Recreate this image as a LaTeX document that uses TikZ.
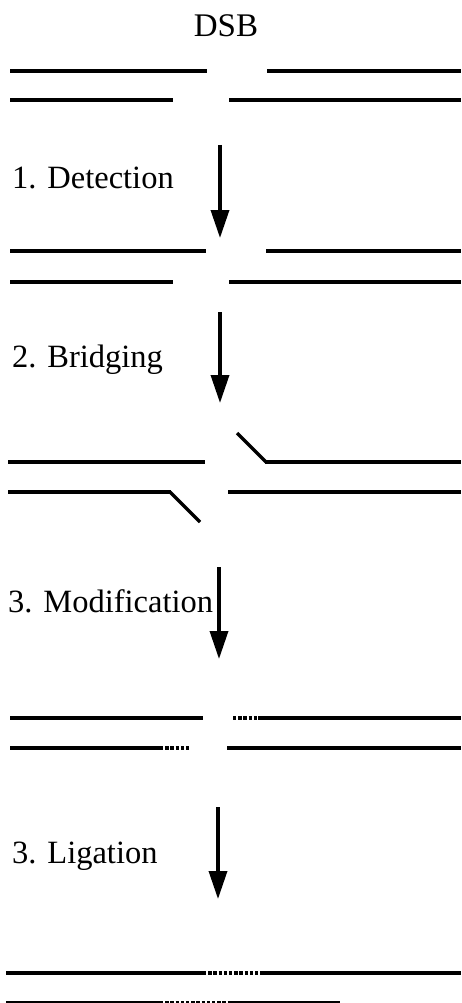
\documentclass[tikz,border=0pt]{standalone}
\usepackage{fontspec}
\setmainfont{Liberation Serif}
\usetikzlibrary{arrows.meta}
\tikzset{
  strand/.style={line width=4pt},
  nick/.style={line width=4pt, dash pattern=on 3.4pt off 1.8pt},
  flap/.style={line width=3.2pt},
  stepcap/.style={font=\fontsize{32.5}{38}\selectfont, inner sep=0pt, anchor=base west},
  stagearrow/.style={line width=3.5pt, -{Triangle[length=28pt,width=18pt]}}
}
\begin{document}
\begin{tikzpicture}[x=1pt,y=-1pt]
\useasboundingbox (0,0) rectangle (461,1003);

% title
\node[font=\fontsize{33}{38}\selectfont, inner sep=0pt, anchor=base] (dsb) at (226,37) {DSB};

% stage 0: broken duplex
\draw[strand] (10,71) -- (207,71);
\draw[strand] (267,71) -- (461,71);
\draw[strand] (10,100) -- (173,100);
\draw[strand] (229,100) -- (461,100);

% stage 1: detection
\node[stepcap] (det) at (12,189) {1. Detection};
\coordinate (a1s) at (220,145);
\coordinate (a1e) at (220,238);
\draw[stagearrow] (a1s) -- (a1e);
\draw[strand] (10,251) -- (206,251);
\draw[strand] (266,251) -- (461,251);
\draw[strand] (10,282) -- (173,282);
\draw[strand] (229,282) -- (461,282);

% stage 2: bridging
\node[stepcap] (bri) at (12,367) {2. Bridging};
\coordinate (a2s) at (220,312);
\coordinate (a2e) at (220,403);
\draw[stagearrow] (a2s) -- (a2e);
\draw[strand] (8,462) -- (205,462);
\draw[flap] (237,433) -- (266,462);
\draw[strand] (265,462) -- (461,462);
\draw[strand] (8,492) -- (171,492);
\draw[flap] (170,492) -- (200,522);
\draw[strand] (228,492) -- (461,492);

% stage 3: modification
\node[stepcap] (mod) at (8,612) {3. Modification};
\coordinate (a3s) at (219,567);
\coordinate (a3e) at (219,659);
\draw[stagearrow] (a3s) -- (a3e);
\draw[strand] (10,718) -- (203,718);
\draw[nick] (233,718) -- (258,718);
\draw[strand] (258,718) -- (461,718);
\draw[strand] (10,748) -- (160,748);
\draw[nick] (160,748) -- (189,748);
\draw[strand] (227,748) -- (461,748);

% stage 4: ligation
\node[stepcap] (lig) at (12,863) {3. Ligation};
\coordinate (a4s) at (218,807);
\coordinate (a4e) at (218,899);
\draw[stagearrow] (a4s) -- (a4e);
\draw[strand] (6,973) -- (203,973);
\draw[nick] (203,973) -- (261,973);
\draw[strand] (261,973) -- (461,973);
\draw[strand] (6,1003) -- (160,1003);
\draw[nick] (160,1003) -- (230,1003);
\draw[strand] (230,1003) -- (340,1003);
\end{tikzpicture}
\end{document}
